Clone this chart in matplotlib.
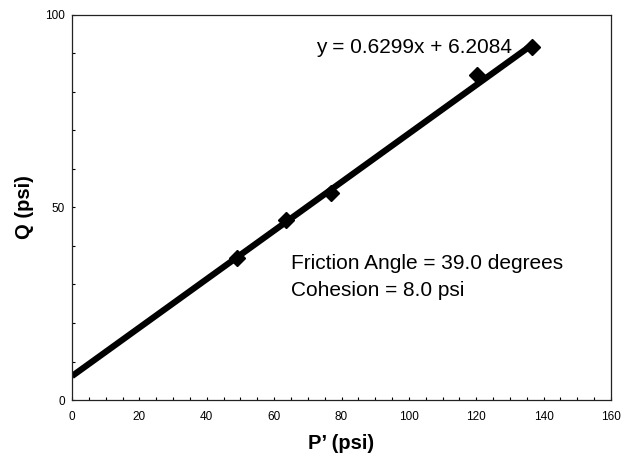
import matplotlib
matplotlib.use("Agg")
import matplotlib.pyplot as plt
import numpy as np
from matplotlib.ticker import MultipleLocator

plt.rcParams['font.family'] = ['Liberation Sans', 'DejaVu Sans']

p_prime = [49.0, 63.5, 77.0, 120.3, 136.5]
q_vals = [36.9, 46.7, 53.8, 84.3, 91.7]
slope = 0.6299
intercept = 6.2084
fit_x = [0, 136.5]

fig = plt.figure(figsize=(6.24, 4.66), dpi=100)
ax = fig.add_axes([0.1154, 0.1416, 0.8638, 0.8264])

fx = np.array(fit_x)
ax.plot(fx, slope * fx + intercept, color='black', lw=4.5, solid_capstyle='butt')
ax.plot(p_prime, q_vals, linestyle='none', marker='D', color='black', markersize=8.5)

ax.set_xlim(0, 160)
ax.set_ylim(0, 100)
ax.xaxis.set_major_locator(MultipleLocator(20))
ax.xaxis.set_minor_locator(MultipleLocator(5))
ax.yaxis.set_major_locator(MultipleLocator(50))
ax.yaxis.set_minor_locator(MultipleLocator(10))
ax.tick_params(which='both', direction='in', length=2.5, width=0.8, labelsize=8.5, colors='black')
ax.tick_params(axis='x', pad=8)
ax.tick_params(axis='y', pad=5)
for s in ax.spines.values():
    s.set_linewidth(0.9)
    s.set_color('#222222')

ax.set_xlabel("P\u2019 (psi)", fontsize=14.5, fontweight='bold', labelpad=8)
ax.set_ylabel("Q (psi)", fontsize=14.5, fontweight='bold', labelpad=8)

ax.text(72.5, 91.5, "y = 0.6299x + 6.2084", fontsize=15, va='center', ha='left')
ax.text(65, 35.5, "Friction Angle = 39.0 degrees", fontsize=15, va='center', ha='left')
ax.text(65, 28.5, "Cohesion = 8.0 psi", fontsize=15, va='center', ha='left')

fig.savefig("out.png", dpi=100)
